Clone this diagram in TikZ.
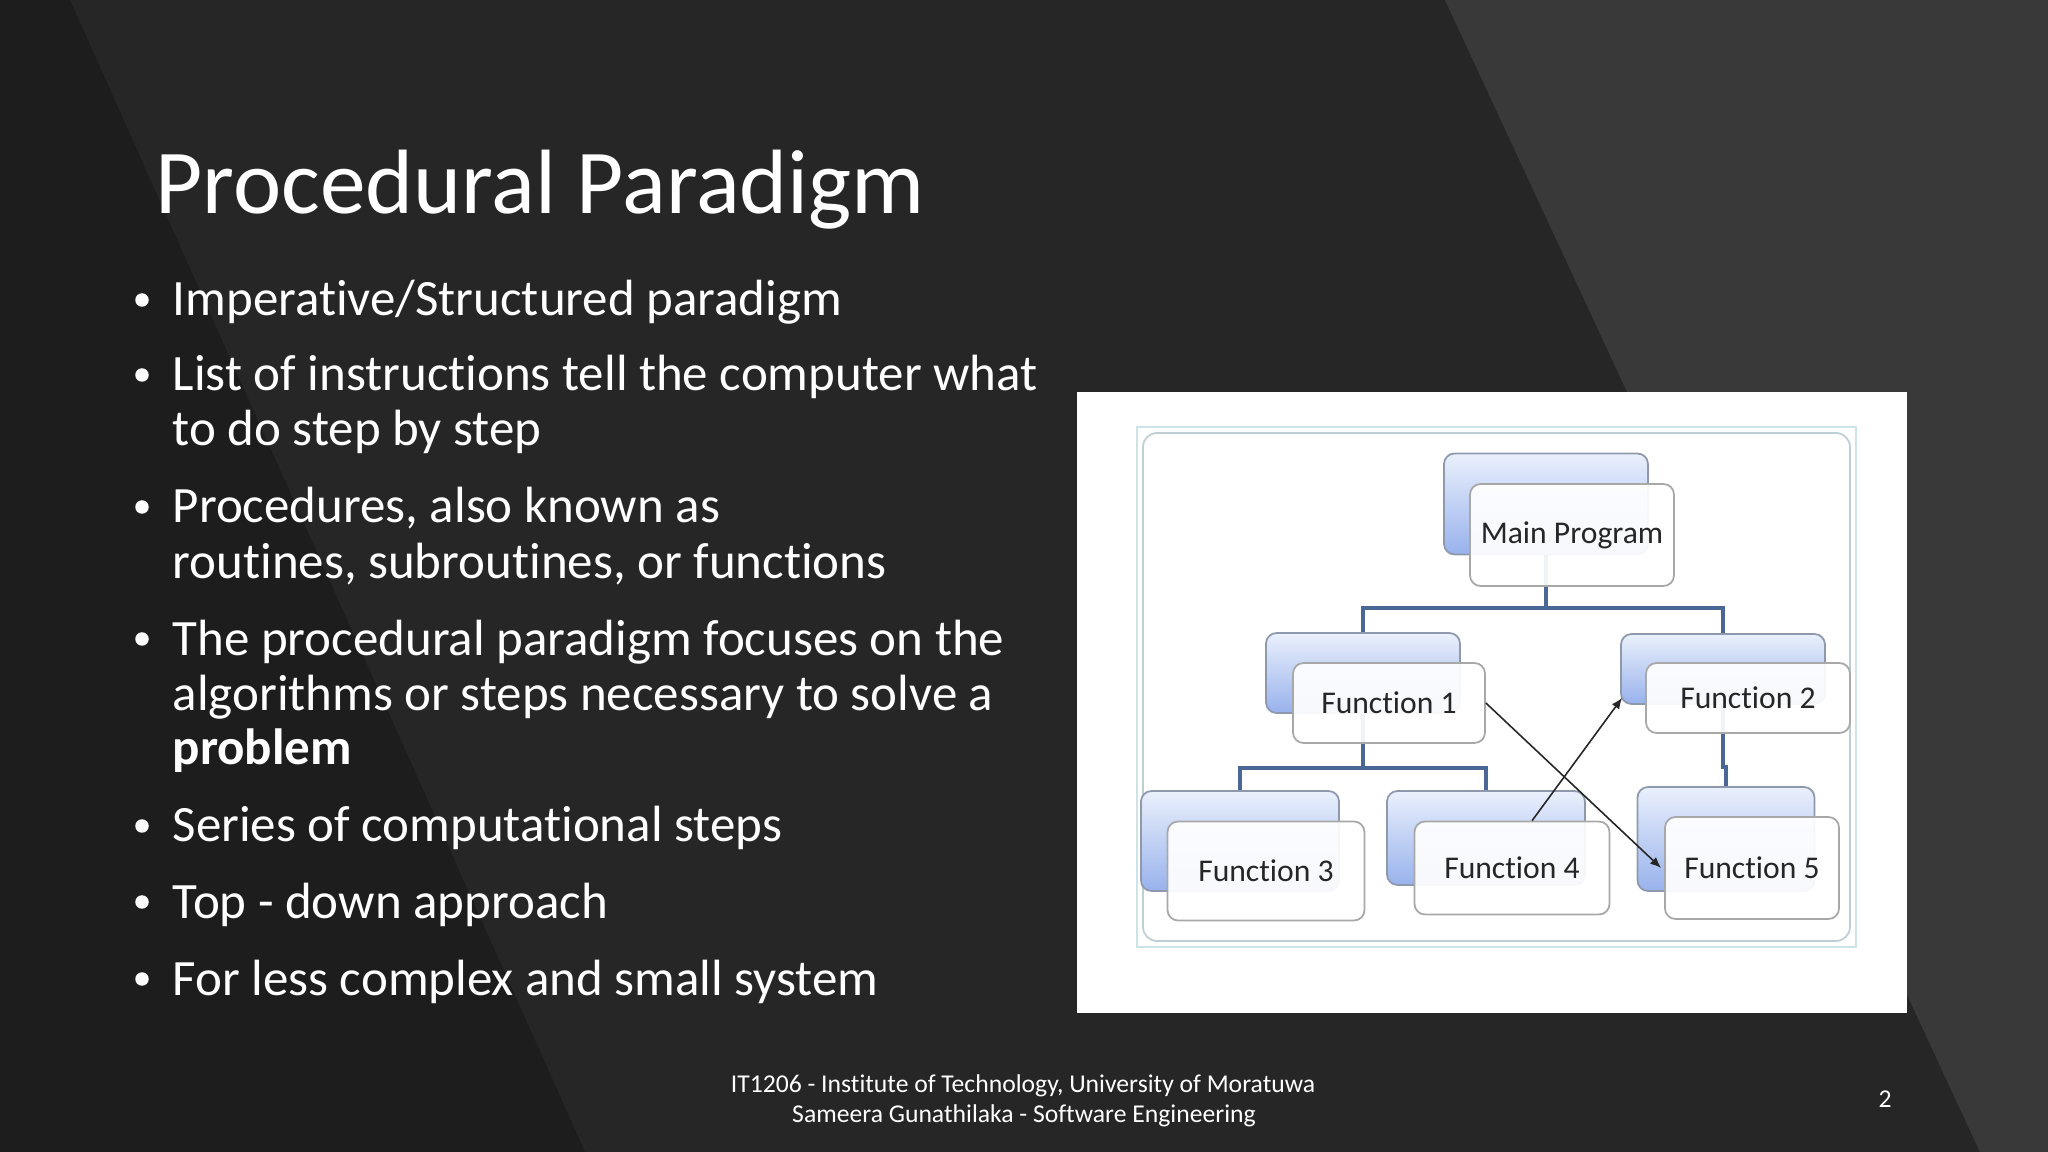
\documentclass[tikz,border=0pt]{standalone}
\usepackage{fontspec}
\setmainfont{Carlito}[Ligatures=NoCommon]
\usetikzlibrary{arrows.meta}

\definecolor{bgmid}{HTML}{262626}
\definecolor{bgleft}{HTML}{1D1D1D}
\definecolor{bgright}{HTML}{393939}
\definecolor{linkblue}{HTML}{4A6795}
\definecolor{boxtop}{HTML}{EAF0FC}
\definecolor{boxbot}{HTML}{98B2EC}
\definecolor{boxedge}{HTML}{8E99AE}
\definecolor{frontedge}{HTML}{A8A8A8}
\definecolor{frameline}{HTML}{CDE3E6}

\tikzset{
  backbox/.style={draw=boxedge, rounded corners=3pt, top color=boxtop, bottom color=boxbot, line width=0.5pt, inner sep=0pt},
  frontbox/.style={draw=frontedge, rounded corners=3pt, fill=white, fill opacity=0.92, text opacity=1, line width=0.5pt, inner sep=0pt, text=black!85, font=\fontsize{9}{10}\selectfont},
  conn/.style={linkblue, line width=1.1pt},
  callarrow/.style={black!85, line width=0.45pt, -{Latex[length=1.1mm,width=0.9mm]}},
  bulletline/.style={anchor=base west, inner sep=0pt, text=white, font=\fontsize{14.5}{16}\selectfont},
  bulletdot/.style={circle, fill=white, inner sep=0pt, minimum size=0.135cm},
  footline/.style={anchor=base, inner sep=0pt, text=white, font=\fontsize{7.3}{9}\selectfont},
}

\begin{document}
\begin{tikzpicture}[x=1cm, y=-1cm]
	\useasboundingbox (0,0) rectangle (20.48,11.52);

	% background bands
	\fill[bgmid] (0,0) rectangle (20.48,11.52);
	\fill[bgleft] (0,0) -- (0.70,0) -- (5.85,11.52) -- (0,11.52) -- cycle;
	\fill[bgright] (14.45,0) -- (20.48,0) -- (20.48,11.52) -- (19.80,11.52) -- cycle;

	% title and bullets
	\node[anchor=base west, inner sep=0pt, text=white, font=\fontsize{26}{30}\selectfont] (title) at (1.55,2.14) {Procedural Paradigm};

	\foreach \y [count=\i] in {3.16,3.91,5.23,6.55,8.42,9.18,9.95}
		\node[bulletdot] (dot\i) at (1.42,\y-0.16) {};

	\node[bulletline] (l1) at (1.72,3.16) {Imperative/Structured paradigm};
	\node[bulletline] (l2) at (1.72,3.91) {List of instructions tell the computer what};
	\node[bulletline] (l3) at (1.72,4.46) {to do step by step};
	\node[bulletline] (l4) at (1.72,5.23) {Procedures, also known as};
	\node[bulletline] (l5) at (1.72,5.78) {routines, subroutines, or functions};
	\node[bulletline] (l6) at (1.72,6.55) {The procedural paradigm focuses on the};
	\node[bulletline] (l7) at (1.72,7.10) {algorithms or steps necessary to solve a};
	\node[bulletline] (l8) at (1.72,7.65) {\textbf{problem}};
	\node[bulletline] (l9) at (1.72,8.42) {Series of computational steps};
	\node[bulletline] (l10) at (1.72,9.18) {Top - down approach};
	\node[bulletline] (l11) at (1.72,9.95) {For less complex and small system};

	% footer
	\node[footline] (foot1) at (10.23,10.92) {IT1206 - Institute of Technology, University of Moratuwa};
	\node[footline] (foot2) at (10.24,11.22) {Sameera Gunathilaka - Software Engineering};
	\node[footline] (pagenum) at (18.85,11.07) {2};

	% picture panel
	\fill[white] (10.77,3.92) rectangle (19.07,10.13);
	\draw[frameline, line width=0.6pt] (11.37,4.27) rectangle (18.56,9.47);
	\draw[frameline!80!gray, line width=0.5pt, rounded corners=4pt] (11.43,4.33) rectangle (18.50,9.41);

	% bus points
	\coordinate (busTop) at (15.46,6.08);
	\coordinate (busLeft) at (13.63,7.68);
	\coordinate (jog) at (17.26,7.67);

	% back boxes
	\node[backbox, minimum width=2.04cm, minimum height=1.01cm] (mainB) at (15.46,5.04) {};
	\node[backbox, minimum width=1.94cm, minimum height=0.80cm] (f1B) at (13.63,6.73) {};
	\node[backbox, minimum width=2.04cm, minimum height=0.70cm] (f2B) at (17.23,6.69) {};
	\node[backbox, minimum width=1.98cm, minimum height=1.00cm] (f3B) at (12.40,8.41) {};
	\node[backbox, minimum width=1.98cm, minimum height=0.94cm] (f4B) at (14.86,8.38) {};
	\node[backbox, minimum width=1.77cm, minimum height=1.04cm] (f5B) at (17.26,8.39) {};

	% tree links
	\draw[conn] (mainB.south) -- (busTop) -| (f1B.north);
	\draw[conn] (busTop) -| (f2B.north);
	\draw[conn] (f1B.south) -- (busLeft) -| (f3B.north);
	\draw[conn] (busLeft) -| (f4B.north);
	\draw[conn] (f2B.south) -- (f2B.south |- jog) -- (jog) -- (f5B.north);

	% front boxes
	\node[frontbox, minimum width=2.04cm, minimum height=1.02cm] (main) at (15.72,5.35) {Main Program};
	\node[frontbox, minimum width=1.92cm, minimum height=0.80cm] (f1) at (13.89,7.03) {Function 1};
	\node[frontbox, minimum width=2.04cm, minimum height=0.70cm] (f2) at (17.48,6.98) {Function 2};
	\node[frontbox, minimum width=1.97cm, minimum height=0.99cm] (f3) at (12.66,8.71) {Function 3};
	\node[frontbox, minimum width=1.95cm, minimum height=0.93cm] (f4) at (15.12,8.68) {Function 4};
	\node[frontbox, minimum width=1.74cm, minimum height=1.02cm] (f5) at (17.52,8.68) {Function 5};

	% calls
	\draw[callarrow] (f1.east) -- ([xshift=-0.3mm]f5.west);
	\draw[callarrow] (f4.67) -- ([shift={(0.02,-0.07)}]f2B.south west);
\end{tikzpicture}
\end{document}
